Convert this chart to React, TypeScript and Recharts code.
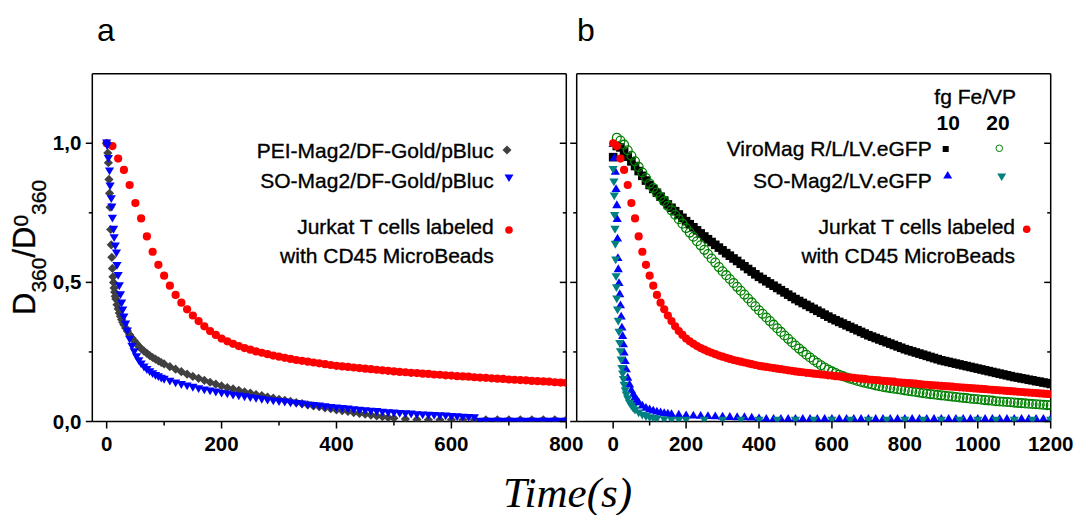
import React from 'react';
import { ScatterChart, Scatter, XAxis, YAxis } from 'recharts';

// ---------- Panel a data ----------
const tPEI = [0,2,3,4,5,6,7,8,9,10,11,12,13,14,15,16,18,20,22,24,26,28,30,33,36,40,44,48,52,56,60,65,70,75,80,85,90,95,100,110,120,130,140,150,160,170,180,190,200,210,220,230,240,250,260,270,280,290,300,310,320,330,340,350,360,370,380,390,400,410,420,430,440,450,460,470,480,490,500,520,540,560,580,600,620,640,660,680,700,720,740,760,780,800];
const vPEI = [1.0,0.965,0.93,0.87,0.82,0.77,0.69,0.635,0.59,0.55,0.52,0.5,0.48,0.465,0.45,0.44,0.42,0.405,0.39,0.378,0.367,0.357,0.348,0.336,0.325,0.312,0.3,0.29,0.28,0.27,0.262,0.253,0.245,0.237,0.23,0.224,0.218,0.212,0.207,0.197,0.188,0.179,0.17,0.162,0.155,0.148,0.141,0.134,0.128,0.122,0.117,0.112,0.107,0.102,0.097,0.093,0.088,0.084,0.08,0.076,0.072,0.068,0.064,0.06,0.056,0.053,0.049,0.046,0.042,0.039,0.036,0.032,0.029,0.026,0.023,0.02,0.017,0.014,0.012,0.009,0.007,0.006,0.006,0.006,0.006,0.006,0.006,0.006,0.006,0.006,0.006,0.006,0.006,0.006];

const tSOa = [0,1,3,5,6,8,9,10,12,13,15,17,18,20,22,24,26,28,30,33,36,40,44,48,52,56,60,65,70,75,80,85,90,95,100,110,120,130,140,150,160,170,180,190,200,210,220,230,240,250,260,270,280,290,300,310,320,330,340,350,360,370,380,390,400,410,420,430,440,450,460,470,480,490,500,510,520,530,540,550,560,570,580,590,600,610,620,630,640,650,660,670,680,690,700,710,720,730,740,750,760,770,780,790,800];
const vSOa = [1.0,0.99,0.945,0.9,0.846,0.8,0.77,0.73,0.69,0.66,0.63,0.605,0.56,0.524,0.487,0.455,0.425,0.4,0.375,0.35,0.325,0.295,0.27,0.25,0.232,0.218,0.206,0.195,0.186,0.178,0.171,0.165,0.16,0.155,0.151,0.144,0.138,0.132,0.127,0.122,0.117,0.113,0.109,0.105,0.101,0.098,0.094,0.091,0.088,0.085,0.082,0.079,0.076,0.073,0.071,0.069,0.066,0.064,0.062,0.059,0.057,0.055,0.052,0.05,0.048,0.046,0.044,0.042,0.04,0.038,0.036,0.035,0.033,0.031,0.03,0.028,0.027,0.026,0.024,0.023,0.022,0.021,0.02,0.019,0.017,0.016,0.015,0.014,0.013,0.0,0.0,0.0,0.0,0.0,0.0,0.0,0.0,0.0,0.0,0.0,0.0,0.0,0.0,0.0,0.0];

// Jurkat T cells (both panels)
const tJur = Array.from({ length: 121 }, (_, i) => i * 10);
const vJur = [1.0,0.99,0.945,0.904,0.85,0.785,0.73,0.665,0.61,0.563,0.524,0.488,0.455,0.427,0.403,0.381,0.361,0.342,0.325,0.311,0.298,0.288,0.279,0.271,0.264,0.258,0.252,0.247,0.242,0.237,0.233,0.229,0.225,0.221,0.218,0.215,0.212,0.209,0.206,0.203,0.2,0.198,0.196,0.194,0.192,0.19,0.188,0.186,0.184,0.182,0.18,0.178,0.177,0.175,0.174,0.172,0.171,0.169,0.168,0.166,0.165,0.163,0.162,0.161,0.159,0.158,0.157,0.155,0.154,0.153,0.151,0.15,0.149,0.148,0.146,0.145,0.144,0.143,0.141,0.14,0.139,0.138,0.137,0.136,0.134,0.133,0.132,0.131,0.13,0.129,0.128,0.127,0.126,0.125,0.124,0.123,0.122,0.121,0.12,0.119,0.118,0.117,0.116,0.115,0.114,0.113,0.112,0.111,0.11,0.109,0.108,0.107,0.106,0.105,0.104,0.103,0.102,0.101,0.1,0.099,0.098];

// ---------- Panel b data ----------
const tVM10 = Array.from({ length: 121 }, (_, i) => i * 10);
const vVM10 = [0.95,0.99,0.985,0.97,0.952,0.935,0.918,0.9,0.883,0.866,0.85,0.836,0.822,0.808,0.794,0.78,0.768,0.756,0.744,0.732,0.72,0.709,0.698,0.687,0.676,0.665,0.655,0.645,0.635,0.625,0.615,0.605,0.596,0.586,0.577,0.567,0.558,0.548,0.539,0.529,0.52,0.512,0.504,0.496,0.488,0.48,0.472,0.464,0.456,0.448,0.44,0.433,0.426,0.419,0.412,0.405,0.398,0.391,0.384,0.377,0.37,0.364,0.358,0.352,0.346,0.34,0.334,0.328,0.322,0.316,0.31,0.305,0.3,0.295,0.29,0.285,0.28,0.275,0.27,0.265,0.26,0.256,0.252,0.248,0.244,0.24,0.236,0.232,0.228,0.224,0.22,0.217,0.214,0.211,0.208,0.205,0.202,0.199,0.196,0.193,0.19,0.187,0.184,0.181,0.178,0.175,0.172,0.169,0.166,0.163,0.16,0.158,0.155,0.153,0.15,0.148,0.145,0.143,0.14,0.138,0.135];

const tVM20 = Array.from({ length: 120 }, (_, i) => (i + 1) * 10);
const vVM20 = [1.02,1.01,0.995,0.975,0.955,0.935,0.915,0.895,0.875,0.855,0.839,0.823,0.807,0.791,0.775,0.759,0.743,0.727,0.711,0.695,0.679,0.664,0.648,0.633,0.617,0.602,0.586,0.571,0.555,0.54,0.526,0.512,0.498,0.484,0.47,0.456,0.442,0.428,0.414,0.4,0.387,0.374,0.361,0.348,0.335,0.322,0.309,0.297,0.285,0.273,0.262,0.251,0.24,0.23,0.22,0.211,0.202,0.194,0.187,0.18,0.174,0.168,0.163,0.158,0.154,0.15,0.146,0.142,0.139,0.136,0.133,0.13,0.127,0.124,0.122,0.12,0.118,0.116,0.114,0.112,0.11,0.108,0.106,0.104,0.102,0.1,0.0985,0.097,0.0955,0.094,0.0925,0.091,0.0895,0.088,0.0865,0.085,0.084,0.082,0.081,0.08,0.078,0.077,0.076,0.075,0.073,0.072,0.071,0.07,0.069,0.068,0.067,0.066,0.065,0.064,0.063,0.062,0.061,0.06,0.059,0.058];

const tSO10 = [0,3,6,8,10,11,12,13,14,16,18,20,22,24,26,28,30,33,36,40,45,50,55,60,65,70,80,90,100,110,120,130,140,150,160,180,200,220,240,260,280,300,320,340,360,380,400,420,440,460,480,500,520,540,560,580,600,620,640,660,680,700,720,740,760,780,800,820,840,860,880,900,920,940,960,980,1000,1020,1040,1060,1080,1100,1120,1140,1160,1180,1200];
const vSO10 = [1.0,0.95,0.9,0.838,0.78,0.73,0.66,0.59,0.55,0.5,0.46,0.42,0.38,0.34,0.31,0.28,0.25,0.22,0.19,0.16,0.135,0.115,0.1,0.09,0.08,0.072,0.06,0.052,0.046,0.042,0.038,0.035,0.033,0.031,0.029,0.027,0.025,0.024,0.023,0.022,0.021,0.02,0.019,0.018,0.018,0.017,0.014,0.012,0.012,0.012,0.012,0.012,0.012,0.012,0.012,0.012,0.012,0.012,0.012,0.012,0.012,0.012,0.012,0.012,0.012,0.012,0.012,0.012,0.012,0.012,0.012,0.012,0.012,0.012,0.012,0.012,0.012,0.012,0.012,0.012,0.012,0.012,0.012,0.012,0.012,0.012,0.012];

const tSO20 = [0,2,3,4,5,6,7,8,9,10,12,14,16,18,20,22,24,26,28,30,33,36,40,45,50,55,60,70,80,90,100,110,120,140,160,180,200,250,300,350,400,450,500,550,600,650,700,750,800,850,900,950,1000,1050,1100,1150,1200];
const vSO20 = [0.905,0.86,0.81,0.74,0.69,0.636,0.58,0.52,0.48,0.44,0.4,0.36,0.32,0.28,0.25,0.22,0.19,0.17,0.15,0.13,0.11,0.095,0.08,0.065,0.055,0.046,0.04,0.03,0.022,0.017,0.013,0.01,0.008,0.006,0.004,0.004,0.004,0.004,0.004,0.004,0.004,0.004,0.004,0.004,0.004,0.004,0.004,0.004,0.004,0.004,0.004,0.004,0.004,0.004,0.004,0.004,0.004];

// ---------- axis ticks ----------
const ticksAxBottom = [0,100,200,300,400,500,600,700,800];
const ticksAxTop = [0,50,100,150,200,250,300,350,400,450,500,550,600,650,700,750,800];
const ticksBxBottom = [0,100,200,300,400,500,600,700,800,900,1000,1100,1200];
const ticksBxTop = [0,100,200,300,400,500,600,700,800,900,1000,1100,1200];
const ticksY = [0,0.25,0.5,0.75,1.0];
const yLabels = [0, 0.5, 1.0];

const zip = (t: number[], v: number[]) => t.map((x, i) => ({ x, y: v[i] }));

const SANS = '"Liberation Sans", Arial, sans-serif';
const SERIF = '"Liberation Serif", "Times New Roman", serif';
const LW = 1.5;

const near = (a: number, m: number) => Math.abs(a / m - Math.round(a / m)) < 1e-6;

const bottomTick = (labelEvery: number) => (p: any) => {
  const { x, y, payload } = p;
  const v = payload.value;
  const lab = near(v, labelEvery);
  return (
    <g>
      <line x1={x} x2={x} y1={y} y2={y + (lab ? 7 : 4)} stroke="#000" strokeWidth={LW} />
      {lab && (
        <text x={x} y={y + 29} textAnchor="middle" fontFamily={SANS} fontSize={20.5} fontWeight="bold" fill="#000">
          {v}
        </text>
      )}
    </g>
  );
};
const topTick = (majorEvery: number) => (p: any) => {
  const { x, y, payload } = p;
  const maj = near(payload.value, majorEvery);
  return <line x1={x} x2={x} y1={y} y2={y + (maj ? 7 : 4)} stroke="#000" strokeWidth={LW} />;
};
const leftTick = (withLabels: boolean) => (p: any) => {
  const { x, y, payload } = p;
  const v = payload.value;
  const maj = near(v, 0.5);
  const lab = withLabels && yLabels.some((l) => Math.abs(l - v) < 1e-6);
  return (
    <g>
      <line x1={x - (maj ? 6.5 : 3.5)} x2={x} y1={y} y2={y} stroke="#000" strokeWidth={LW} />
      {lab && (
        <text x={x - 11} y={y + 7} textAnchor="end" fontFamily={SANS} fontSize={20.5} fontWeight="bold" fill="#000">
          {v.toFixed(1).replace('.', ',')}
        </text>
      )}
    </g>
  );
};
const rightTick = (p: any) => {
  const { x, y, payload } = p;
  const maj = near(payload.value, 0.5);
  return <line x1={x - (maj ? 6.5 : 3.5)} x2={x} y1={y} y2={y} stroke="#000" strokeWidth={LW} />;
};

// ---------- marker shapes ----------
const diamond = (color: string, s: number) => (p: any) =>
  <path d={`M${p.cx},${p.cy - s}L${p.cx + s},${p.cy}L${p.cx},${p.cy + s}L${p.cx - s},${p.cy}Z`} fill={color} />;
const triDown = (color: string, s: number) => (p: any) =>
  <path d={`M${p.cx - s},${p.cy - s * 0.8}L${p.cx + s},${p.cy - s * 0.8}L${p.cx},${p.cy + s * 0.9}Z`} fill={color} />;
const triUp = (color: string, s: number) => (p: any) =>
  <path d={`M${p.cx - s},${p.cy + s * 0.8}L${p.cx + s},${p.cy + s * 0.8}L${p.cx},${p.cy - s * 0.9}Z`} fill={color} />;
const dot = (color: string, r: number) => (p: any) => <circle cx={p.cx} cy={p.cy} r={r} fill={color} />;
const ring = (color: string, r: number) => (p: any) =>
  <circle cx={p.cx} cy={p.cy} r={r} fill="none" stroke={color} strokeWidth={1.3} />;
const square = (color: string, s: number) => (p: any) =>
  <rect x={p.cx - s} y={p.cy - s} width={2 * s} height={2 * s} fill={color} />;

const GRAY = '#404040';
const BLUE = '#0000ff';
const RED = '#ff0000';
const GREEN = '#008000';
const TEAL = '#008080';
const BLACK = '#000000';

const AX = { stroke: '#000', strokeWidth: LW };
// plot box (pixels)
const P_TOP = 73.7;
const P_BOTTOM = 421.5;
const A_LEFT = 92.3;
const A_RIGHT = 566.3;
const B_LEFT = 576.7;
const B_RIGHT = 1050.7;

const marginFor = (l: number, r: number) => ({ top: P_TOP - 1, bottom: 515 - P_BOTTOM - 1, left: l - 1, right: 1078 - r - 1 });

const axes = (xDomain: [number, number], xb: number[], xt: number[], topMajor: number, yLab: boolean) => [
  <XAxis key="xb" dataKey="x" type="number" domain={xDomain} ticks={xb} interval={0} allowDataOverflow height={1}
    tickSize={0} tickMargin={0} tickLine={false} axisLine={AX} tick={bottomTick(200)} />,
  <XAxis key="xt" xAxisId="top" orientation="top" type="number" domain={xDomain} ticks={xt} interval={0} allowDataOverflow
    height={1} tickSize={0} tickMargin={0} tickLine={false} axisLine={AX} tick={topTick(topMajor)} />,
  <YAxis key="yl" dataKey="y" type="number" domain={[0, 1.25]} ticks={ticksY} interval={0} allowDataOverflow width={1}
    tickSize={0} tickMargin={0} tickLine={false} axisLine={AX} tick={leftTick(yLab)} />,
  <YAxis key="yr" yAxisId="right" orientation="right" type="number" domain={[0, 1.25]} ticks={ticksY} interval={0}
    allowDataOverflow width={1} tickSize={0} tickMargin={0} tickLine={false} axisLine={AX} tick={rightTick} />,
];

const PanelA = () => (
  <ScatterChart width={1078} height={515} margin={marginFor(A_LEFT, A_RIGHT)}>
    {axes([-25, 800], ticksAxBottom, ticksAxTop, 100, true)}
    <Scatter data={zip(tJur, vJur).filter((d) => d.x <= 810)} shape={dot(RED, 4.1)} isAnimationActive={false} />
    <Scatter data={zip(tPEI, vPEI)} shape={diamond(GRAY, 4.6)} isAnimationActive={false} />
    <Scatter data={zip(tSOa, vSOa)} shape={triDown(BLUE, 4.6)} isAnimationActive={false} />
  </ScatterChart>
);

const PanelB = () => (
  <ScatterChart width={1078} height={515} margin={marginFor(B_LEFT, B_RIGHT)}>
    {axes([-100, 1200], ticksBxBottom, ticksBxTop, 100, false)}
    <Scatter data={zip(tVM10, vVM10)} shape={square(BLACK, 4.3)} isAnimationActive={false} />
    <Scatter data={zip(tVM20, vVM20)} shape={ring(GREEN, 4.4)} isAnimationActive={false} />
    <Scatter data={zip(tSO10, vSO10)} shape={triUp(BLUE, 4.6)} isAnimationActive={false} />
    <Scatter data={zip(tSO20, vSO20)} shape={triDown(TEAL, 4.6)} isAnimationActive={false} />
    <Scatter data={zip(tJur, vJur)} shape={dot(RED, 4.1)} isAnimationActive={false} />
  </ScatterChart>
);

const legendText = (x: number, y: number, s: string, anchor: 'start' | 'end' | 'middle' = 'end', bold = false) => (
  <text x={x} y={y} textAnchor={anchor} fontFamily={SANS} fontSize={21} fontWeight={bold ? 'bold' : 'normal'}
    fill="#000" stroke="#000" strokeWidth={bold ? 0 : 0.35}>
    {s}
  </text>
);

const Overlay = () => (
  <svg width={1078} height={515} style={{ position: 'absolute', left: 0, top: 0 }}>
    <text x={97} y={41} fontFamily={SANS} fontSize={32} fill="#000">a</text>
    <text x={577} y={41} fontFamily={SANS} fontSize={32} fill="#000">b</text>
    <text x={567.5} y={507} textAnchor="middle" fontFamily={SERIF} fontStyle="italic" fontSize={43} fill="#000">Time(s)</text>
    <text x={35} y={315} transform="rotate(-90 35 315)" fontFamily={SANS} fill="#000" stroke="#000" strokeWidth={0.3}>
      <tspan fontSize={31}>D</tspan>
      <tspan fontSize={21} dy={11}>360</tspan>
      <tspan fontSize={31} dy={-11}>/D</tspan>
      <tspan fontSize={21} dy={-7}>0</tspan>
      <tspan fontSize={21} dy={18}>360</tspan>
    </text>
    {/* legend a */}
    {legendText(493.7, 157.5, 'PEI-Mag2/DF-Gold/pBluc')}
    {legendText(493.7, 188, 'SO-Mag2/DF-Gold/pBluc')}
    {legendText(493.7, 234, 'Jurkat T cells labeled')}
    {legendText(493.7, 263, 'with CD45 MicroBeads')}
    <path d="M507,145.5L511.5,150L507,154.5L502.5,150Z" fill={GRAY} />
    <path d="M504.5,174.5L513.5,174.5L509,182Z" fill={BLUE} />
    <circle cx={509} cy={230} r={3.8} fill={RED} />
    {/* legend b */}
    {legendText(934.3, 104, 'fg Fe/VP', 'start')}
    {legendText(948.3, 130, '10', 'middle', true)}
    {legendText(998, 130, '20', 'middle', true)}
    {legendText(931.7, 155.5, 'ViroMag R/L/LV.eGFP')}
    {legendText(931.7, 187.5, 'SO-Mag2/LV.eGFP')}
    {legendText(1015, 233.5, 'Jurkat T cells labeled')}
    {legendText(1015, 262.5, 'with CD45 MicroBeads')}
    <rect x={942.7} y={146} width={6} height={6} fill={BLACK} />
    <circle cx={999.3} cy={148.3} r={3.3} fill="none" stroke={GREEN} strokeWidth={1} />
    <path d="M943.2,178.5L952.2,178.5L947.7,171Z" fill={BLUE} />
    <path d="M997.2,173.5L1006.2,173.5L1001.7,181Z" fill={TEAL} />
    <circle cx={1026.7} cy={229.3} r={3.8} fill={RED} />
  </svg>
);

export default function App() {
  return (
    <div style={{ position: 'absolute', left: 0, top: 0, width: 1078, height: 515, background: '#fff', overflow: 'hidden' }}>
      <div style={{ position: 'absolute', left: 0, top: 0 }}>
        <PanelA />
      </div>
      <div style={{ position: 'absolute', left: 0, top: 0 }}>
        <PanelB />
      </div>
      <Overlay />
    </div>
  );
}
